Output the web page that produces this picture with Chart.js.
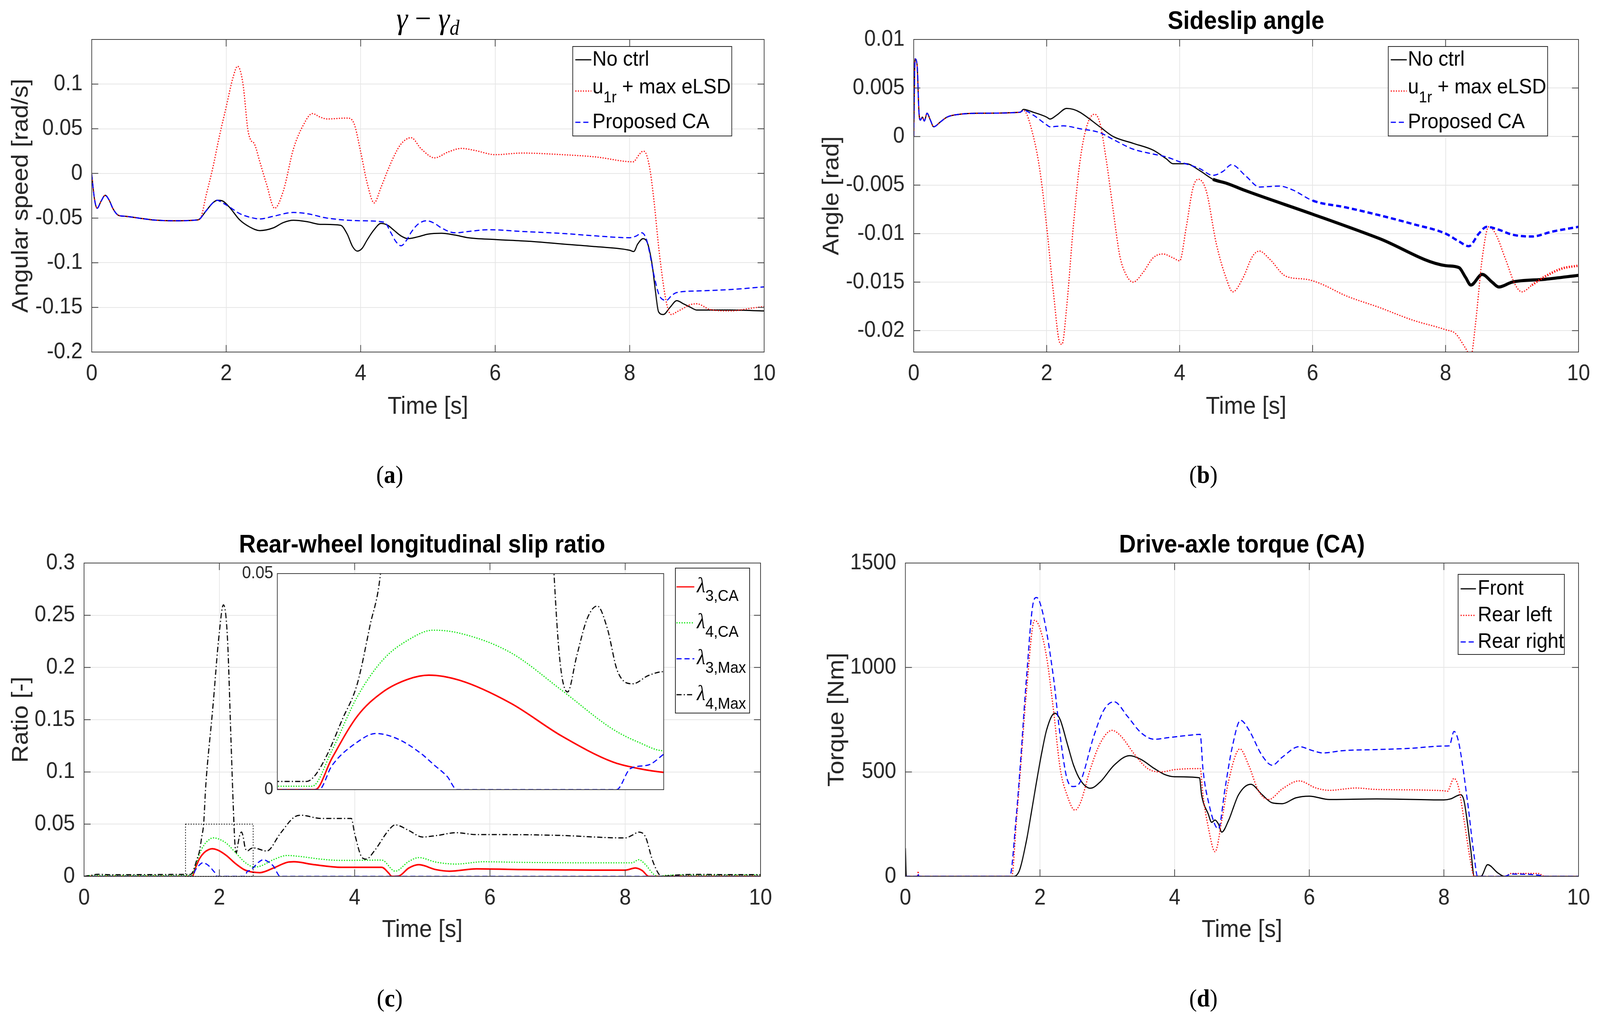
<!DOCTYPE html>
<html>
<head>
<meta charset="utf-8">
<script src="https://cdn.jsdelivr.net/npm/chart.js"></script>
<style>
  html, body { margin: 0; padding: 0; background: #fff; overflow: hidden; }
  #wrap { position: relative; overflow: hidden; background: #fff; }
  #page { position: absolute; left: 0; top: 0; width: 4397px; height: 2608px; background: #fff; transform-origin: 0 0; }
  canvas { position: absolute; }
  .ttl { position: absolute; transform: translate(-50%, -50%); white-space: nowrap; color: #000;
         font-family: "Liberation Sans", Arial, sans-serif; font-weight: bold; font-size: 64px; }
  .math { font-family: "Liberation Serif", "DejaVu Serif", serif; font-weight: normal; font-size: 79px; }
  .math i { font-style: italic; }
  .math sub { font-size: 54px; vertical-align: -16px; }
  .cap { position: absolute; transform: translate(-50%, -50%); white-space: nowrap; color: #000;
         font-family: "Liberation Serif", "DejaVu Serif", serif; font-size: 64px; }
</style>
</head>
<body>
<div id="wrap">
<div id="page">
  <canvas id="chartA" width="2200" height="1120" style="left:0px;top:0px;width:2200px;height:1120px"></canvas>
  <canvas id="chartB" width="2197" height="1120" style="left:2200px;top:0px;width:2197px;height:1120px"></canvas>
  <canvas id="chartC" width="2200" height="1180" style="left:0px;top:1300px;width:2200px;height:1180px"></canvas>
  <canvas id="chartD" width="2197" height="1180" style="left:2200px;top:1300px;width:2197px;height:1180px"></canvas>
  <canvas id="chartInset" width="1240" height="681" style="left:600px;top:1400px;width:1240px;height:681px"></canvas>

  <div class="ttl math" style="left:1176px;top:52px"><i>γ</i> − <i>γ<sub>d</sub></i></div>
  <div class="ttl" style="left:3424px;top:52px">Sideslip angle</div>
  <div class="ttl" style="left:1160px;top:1392px">Rear-wheel longitudinal slip ratio</div>
  <div class="ttl" style="left:3413px;top:1392px">Drive-axle torque (CA)</div>

  <div class="cap" style="left:1071px;top:1215px">(<b>a</b>)</div>
  <div class="cap" style="left:3307px;top:1215px">(<b>b</b>)</div>
  <div class="cap" style="left:1071px;top:2555px">(<b>c</b>)</div>
  <div class="cap" style="left:3307px;top:2555px">(<b>d</b>)</div>
</div>
</div>

<script>
// map the 4397x2608 figure onto whatever viewport the browser really has
const PAGE_W = 4397, PAGE_H = 2608;
const sx = window.innerWidth / PAGE_W;
const sy = (window.innerHeight || PAGE_H * sx) / PAGE_H;
const wrap = document.getElementById('wrap');
wrap.style.width = (PAGE_W * sx) + 'px';
wrap.style.height = (PAGE_H * sy) + 'px';
document.getElementById('page').style.transform = 'scale(' + sx + ',' + sy + ')';

// ---- ticks ----
const xTicks = [0, 2, 4, 6, 8, 10];
const yTicksA = [-0.2, -0.15, -0.1, -0.05, 0, 0.05, 0.1];
const yTicksB = [-0.02, -0.015, -0.01, -0.005, 0, 0.005, 0.01];
const yTicksC = [0, 0.05, 0.1, 0.15, 0.2, 0.25, 0.3];
const yTicksD = [0, 500, 1000, 1500];
const yTicksInset = [0, 0.05];
const INSET_T = [1.5, 2.5];
const INSET_Y = [0, 0.05];

// ---- legend labels ----
const labelsAB = ['No ctrl', 'u_{1r} + max eLSD', 'Proposed CA'];
const labelsC = ['λ_{3,CA}', 'λ_{4,CA}', 'λ_{3,Max}', 'λ_{4,Max}'];
const labelsD = ['Front', 'Rear left', 'Rear right'];

// ---- (a) yaw rate error [rad/s] ----
const tA_noCtrl = [0, 0.04, 0.08, 0.14, 0.2, 0.26, 0.32, 0.4, 0.5, 0.7, 0.9, 1.2, 1.58, 1.7, 1.8, 1.87, 1.95, 2.05, 2.2, 2.35, 2.5, 2.7, 2.85, 3.0, 3.2, 3.4, 3.7, 3.8, 3.88, 3.95, 4.02, 4.1, 4.2, 4.3, 4.4, 4.5, 4.6, 4.7, 4.85, 5.0, 5.2, 5.4, 5.6, 6.0, 6.5, 7.0, 7.5, 8.0, 8.06, 8.12, 8.2, 8.26, 8.3, 8.34, 8.38, 8.43, 8.5, 8.6, 8.7, 8.8, 8.9, 9.0, 9.5, 10];
const yA_noCtrl = [-0.001, -0.028, -0.039, -0.031, -0.0245, -0.03, -0.04, -0.047, -0.048, -0.05, -0.052, -0.053, -0.052, -0.042, -0.033, -0.03, -0.031, -0.038, -0.052, -0.06, -0.064, -0.061, -0.055, -0.0525, -0.054, -0.057, -0.058, -0.068, -0.082, -0.087, -0.084, -0.074, -0.063, -0.056, -0.058, -0.064, -0.07, -0.073, -0.071, -0.068, -0.067, -0.069, -0.072, -0.074, -0.076, -0.079, -0.082, -0.086, -0.0875, -0.079, -0.073, -0.077, -0.088, -0.105, -0.13, -0.155, -0.158, -0.15, -0.1425, -0.146, -0.1497, -0.153, -0.153, -0.154];
const tA_eLSD = [0, 0.04, 0.08, 0.14, 0.2, 0.26, 0.32, 0.4, 0.5, 0.7, 0.9, 1.2, 1.58, 1.62, 1.7, 1.8, 1.9, 2.0, 2.1, 2.17, 2.25, 2.32, 2.36, 2.42, 2.5, 2.6, 2.72, 2.85, 3.0, 3.15, 3.28, 3.4, 3.5, 3.8, 3.9, 4.0, 4.1, 4.2, 4.3, 4.4, 4.5, 4.6, 4.75, 4.9, 5.1, 5.3, 5.5, 5.7, 6.0, 6.4, 7.0, 7.5, 8.05, 8.15, 8.2, 8.25, 8.3, 8.35, 8.45, 8.55, 8.62, 8.7, 8.8, 8.9, 9.0, 9.2, 9.5, 9.8, 10];
const yA_eLSD = [-0.001, -0.028, -0.039, -0.031, -0.0245, -0.03, -0.04, -0.047, -0.048, -0.05, -0.052, -0.053, -0.052, -0.05, -0.025, 0.006, 0.042, 0.0745, 0.107, 0.12, 0.1, 0.05, 0.038, 0.033, 0.013, -0.012, -0.039, -0.0195, 0.0275, 0.0546, 0.067, 0.063, 0.061, 0.062, 0.056, 0.024, -0.012, -0.033, -0.016, 0.003, 0.02, 0.033, 0.04, 0.0275, 0.0174, 0.024, 0.028, 0.0257, 0.021, 0.0228, 0.021, 0.0184, 0.013, 0.022, 0.025, 0.021, 0.005, -0.023, -0.095, -0.146, -0.158, -0.155, -0.151, -0.147, -0.146, -0.1525, -0.154, -0.151, -0.149];
const tA_CA = [0, 0.04, 0.08, 0.14, 0.2, 0.26, 0.32, 0.4, 0.5, 0.7, 0.9, 1.2, 1.58, 1.7, 1.8, 1.87, 1.9, 2.05, 2.2, 2.35, 2.5, 2.7, 3.0, 3.2, 3.5, 4.0, 4.35, 4.45, 4.52, 4.6, 4.68, 4.75, 4.85, 4.98, 5.1, 5.2, 5.4, 5.6, 5.9, 6.4, 7.0, 7.5, 8.0, 8.1, 8.18, 8.25, 8.3, 8.35, 8.45, 8.55, 8.62, 8.7, 9.0, 9.5, 10];
const yA_CA = [-0.001, -0.028, -0.039, -0.031, -0.0245, -0.03, -0.04, -0.047, -0.048, -0.05, -0.052, -0.053, -0.052, -0.042, -0.033, -0.03, -0.031, -0.0376, -0.045, -0.049, -0.051, -0.048, -0.0437, -0.045, -0.05, -0.053, -0.0546, -0.0665, -0.076, -0.081, -0.075, -0.066, -0.057, -0.053, -0.056, -0.061, -0.0665, -0.065, -0.063, -0.065, -0.0672, -0.07, -0.072, -0.07, -0.0665, -0.074, -0.09, -0.11, -0.138, -0.142, -0.137, -0.1334, -0.1316, -0.13, -0.127];

// ---- (b) sideslip angle [rad] ----
const tB_noCtrl = [0, 0.02, 0.05, 0.08, 0.1, 0.13, 0.16, 0.2, 0.25, 0.3, 0.4, 0.5, 0.7, 1.0, 1.6, 1.65, 1.8, 2.0, 2.05, 2.15, 2.3, 2.4, 2.5, 2.8, 3.0, 3.3, 3.6, 3.8, 3.9, 4.1, 4.3, 4.5, 4.7, 5.0, 6.0, 7.0, 8.0, 8.2, 8.3, 8.38, 8.55, 8.7, 8.8, 9.0, 9.5, 10];
const yB_noCtrl = [0, 0.008, 0.0074, 0.0024, 0.0017, 0.002, 0.0016, 0.0024, 0.0017, 0.001, 0.0015, 0.002, 0.0023, 0.0024, 0.0025, 0.0028, 0.0025, 0.002, 0.0018, 0.0022, 0.0029, 0.0028, 0.0025, 0.001, 0, -0.0007, -0.0014, -0.0023, -0.0028, -0.0028, -0.0035, -0.0044, -0.0048, -0.0056, -0.008, -0.0105, -0.0133, -0.0135, -0.0145, -0.0153, -0.0142, -0.015, -0.0155, -0.015, -0.0147, -0.0143];
const tB_eLSD = [0, 0.02, 0.05, 0.08, 0.1, 0.13, 0.16, 0.2, 0.25, 0.3, 0.4, 0.5, 0.7, 1.0, 1.6, 1.65, 1.8, 1.9, 2.0, 2.1, 2.2, 2.23, 2.3, 2.4, 2.5, 2.6, 2.72, 2.8, 2.9, 3.0, 3.1, 3.2, 3.3, 3.45, 3.6, 3.75, 3.9, 4.0, 4.1, 4.2, 4.28, 4.4, 4.55, 4.7, 4.8, 4.95, 5.1, 5.2, 5.35, 5.6, 5.9, 6.1, 6.5, 7.0, 7.5, 8.0, 8.15, 8.3, 8.38, 8.45, 8.55, 8.65, 8.75, 8.9, 9.05, 9.15, 9.3, 9.5, 9.75, 10];
const yB_eLSD = [0, 0.008, 0.0074, 0.0024, 0.0017, 0.002, 0.0016, 0.0024, 0.0017, 0.001, 0.0015, 0.002, 0.0023, 0.0024, 0.0025, 0.0027, 0, -0.0036, -0.0093, -0.016, -0.0213, -0.0214, -0.0176, -0.0093, -0.0026, 0.001, 0.0023, 0.0014, -0.0026, -0.0076, -0.0123, -0.0143, -0.015, -0.014, -0.0125, -0.0121, -0.0125, -0.0128, -0.0093, -0.0053, -0.0044, -0.0056, -0.011, -0.0146, -0.016, -0.0146, -0.0123, -0.0118, -0.0126, -0.0144, -0.0147, -0.0151, -0.0164, -0.0176, -0.0189, -0.0199, -0.0203, -0.0218, -0.0226, -0.0193, -0.0126, -0.0093, -0.01, -0.0126, -0.0153, -0.016, -0.0153, -0.0144, -0.0136, -0.0133];
const tB_CA = [0, 0.02, 0.05, 0.08, 0.1, 0.13, 0.16, 0.2, 0.25, 0.3, 0.4, 0.5, 0.7, 1.0, 1.6, 1.65, 1.8, 2.0, 2.05, 2.25, 2.5, 2.8, 3.0, 3.3, 3.6, 3.8, 4.0, 4.3, 4.5, 4.65, 4.78, 5.0, 5.2, 5.5, 5.7, 6.0, 6.5, 7.0, 7.5, 8.0, 8.2, 8.35, 8.5, 8.62, 8.8, 9.0, 9.3, 9.6, 10];
const yB_CA = [0, 0.008, 0.0074, 0.0024, 0.0017, 0.002, 0.0016, 0.0024, 0.0017, 0.001, 0.0015, 0.002, 0.0023, 0.0024, 0.0025, 0.0027, 0.0022, 0.0012, 0.001, 0.0011, 0.0008, 0.0004, -0.0003, -0.0013, -0.0018, -0.0021, -0.0026, -0.0033, -0.004, -0.0036, -0.0029, -0.0041, -0.0052, -0.0051, -0.0055, -0.0066, -0.0073, -0.0081, -0.009, -0.01, -0.0108, -0.0113, -0.01, -0.0093, -0.0096, -0.0101, -0.0103, -0.0098, -0.0093];

// ---- (c) rear-wheel slip ratio [-] ----
const tC_l3CA = [0, 1.5, 1.598, 1.641, 1.707, 1.773, 1.84, 1.892, 1.972, 2.104, 2.236, 2.368, 2.434, 2.5, 2.6, 2.8, 3.0, 3.1, 3.4, 3.8, 4.4, 4.5, 4.55, 4.65, 4.8, 4.95, 5.2, 5.4, 5.8, 6.5, 7.5, 8.0, 8.15, 8.25, 8.35, 10];
const yC_l3CA = [0, 0, 0, 0.0072, 0.017, 0.0226, 0.0256, 0.0265, 0.0253, 0.02, 0.0124, 0.0064, 0.0049, 0.004, 0.0036, 0.008, 0.0134, 0.014, 0.0112, 0.0087, 0.0087, 0.0034, 0, 0.0003, 0.008, 0.0112, 0.0065, 0.005, 0.0072, 0.0065, 0.006, 0.006, 0.008, 0.0056, 0, 0];
const tC_l4CA = [0, 0.1, 0.5, 1.5, 1.59, 1.641, 1.707, 1.773, 1.84, 1.903, 1.972, 2.104, 2.236, 2.368, 2.434, 2.5, 2.6, 2.8, 3.0, 3.2, 3.5, 3.8, 4.4, 4.6, 4.8, 4.95, 5.2, 5.5, 5.9, 6.5, 7.5, 8.1, 8.2, 8.3, 8.42, 8.5, 8.6, 9.0, 10];
const yC_l4CA = [0, 0.0008, 0.0008, 0.0008, 0.0008, 0.009, 0.0215, 0.03, 0.0347, 0.0369, 0.0362, 0.0317, 0.023, 0.014, 0.011, 0.009, 0.0097, 0.016, 0.02, 0.019, 0.0165, 0.0153, 0.0156, 0.005, 0.0143, 0.018, 0.0137, 0.0118, 0.014, 0.0134, 0.013, 0.013, 0.016, 0.0112, 0.002, 0, 0.001, 0.0013, 0.0013];
const tC_l3Max = [0, 1.5, 1.608, 1.641, 1.707, 1.755, 1.81, 1.87, 1.906, 1.94, 1.965, 2.378, 2.414, 2.46, 2.5, 2.58, 2.65, 2.72, 2.8, 2.9, 10];
const yC_l3Max = [0, 0, 0, 0.0055, 0.011, 0.013, 0.0118, 0.0085, 0.0057, 0.003, 0, 0, 0.0049, 0.0057, 0.0082, 0.0135, 0.016, 0.014, 0.0097, 0, 0];
const tC_l4Max = [0, 0.1, 0.2, 0.4, 1.0, 1.5, 1.575, 1.595, 1.628, 1.668, 1.707, 1.74, 1.767, 1.8, 1.9, 2.0, 2.06, 2.12, 2.17, 2.21, 2.23, 2.251, 2.275, 2.302, 2.328, 2.354, 2.38, 2.42, 2.46, 2.5, 2.7, 2.9, 3.1, 3.2, 3.5, 3.95, 4.0, 4.1, 4.17, 4.3, 4.5, 4.6, 4.8, 5.0, 5.2, 5.5, 5.8, 6.2, 7.0, 8.0, 8.1, 8.2, 8.3, 8.4, 8.5, 8.55, 8.7, 9.0, 9.5, 10];
const yC_l4Max = [0, 0.001, 0.002, 0.0016, 0.0017, 0.0019, 0.0019, 0.003, 0.0079, 0.0162, 0.0245, 0.038, 0.05, 0.0876, 0.159, 0.234, 0.26, 0.228, 0.134, 0.06, 0.031, 0.0226, 0.031, 0.0396, 0.0425, 0.0373, 0.0275, 0.0245, 0.0264, 0.0273, 0.0243, 0.041, 0.0564, 0.0586, 0.0555, 0.0555, 0.041, 0.019, 0.0165, 0.0252, 0.044, 0.0493, 0.044, 0.0377, 0.039, 0.0418, 0.04, 0.04, 0.0393, 0.0368, 0.0393, 0.0424, 0.0377, 0.0159, 0.0019, 0, 0.001, 0.0019, 0.0017, 0.0017];

// ---- (d) drive-axle torque [Nm] ----
const tD_front = [0, 0.015, 0.03, 1.6, 1.65, 1.7, 1.8, 1.9, 2.0, 2.1, 2.22, 2.3, 2.4, 2.5, 2.6, 2.75, 2.9, 3.1, 3.33, 3.5, 3.7, 3.85, 4.0, 4.37, 4.4, 4.5, 4.55, 4.6, 4.65, 4.7, 4.8, 4.95, 5.13, 5.3, 5.45, 5.6, 5.8, 6.0, 6.3, 7.0, 8.0, 8.1, 8.25, 8.3, 8.4, 8.45, 8.55, 8.65, 8.8, 8.9, 10];
const yD_front = [135, 0, 0, 0, 5, 33, 173, 360, 547, 703, 781, 750, 641, 531, 461, 422, 454, 532, 578, 560, 516, 488, 477, 472, 391, 298, 259, 270, 251, 212, 267, 391, 441, 391, 352, 348, 376, 384, 368, 371, 366, 371, 391, 360, 126, 0, 0, 56, 17, 0, 0];
const tD_rearL = [0, 0.18, 0.19, 0.2, 1.58, 1.65, 1.7, 1.8, 1.92, 2.0, 2.1, 2.2, 2.3, 2.4, 2.52, 2.6, 2.75, 2.9, 3.07, 3.2, 3.4, 3.6, 3.8, 4.0, 4.38, 4.42, 4.5, 4.6, 4.7, 4.8, 4.97, 5.1, 5.25, 5.4, 5.6, 5.85, 6.1, 6.3, 6.7, 7.0, 8.0, 8.05, 8.15, 8.22, 8.3, 8.4, 8.45, 8.9, 9.0, 9.4, 9.5, 10];
const yD_rearL = [0, 0, 25, 0, 0, 267, 469, 890, 1226, 1187, 1046, 797, 516, 391, 317, 352, 516, 641, 699, 672, 586, 516, 500, 511, 516, 391, 235, 118, 267, 454, 610, 532, 407, 368, 419, 457, 423, 412, 423, 416, 410, 407, 469, 423, 267, 64, 0, 0, 14, 14, 0, 0];
const tD_rearR = [0, 0.18, 0.19, 0.2, 1.55, 1.65, 1.7, 1.8, 1.9, 1.95, 2.05, 2.2, 2.3, 2.4, 2.5, 2.6, 2.8, 2.95, 3.1, 3.3, 3.5, 3.7, 3.9, 4.2, 4.38, 4.42, 4.5, 4.65, 4.75, 4.85, 4.98, 5.1, 5.3, 5.45, 5.6, 5.85, 6.05, 6.2, 6.5, 7.0, 7.5, 8.0, 8.08, 8.15, 8.22, 8.35, 8.45, 8.5, 8.9, 9.0, 9.4, 9.5, 10];
const yD_rearR = [0, 0, 15, 0, 0, 298, 500, 953, 1311, 1335, 1249, 953, 672, 469, 430, 454, 672, 797, 836, 766, 688, 656, 664, 675, 680, 516, 360, 228, 423, 610, 747, 703, 578, 532, 571, 621, 602, 591, 602, 607, 613, 624, 625, 694, 641, 360, 95, 0, 0, 11, 6, 0, 0];

// ---- styles ----
const FONT = '"Liberation Sans", Arial, sans-serif';
const TXT = '#262626';
const solidK = { borderColor: '#000000', borderWidth: 3 };
const dotR = { borderColor: '#ff0000', borderWidth: 3, borderDash: [3, 4] };
const dashB = { borderColor: '#0000ff', borderWidth: 3, borderDash: [14, 8] };
const solidR = { borderColor: '#ff0000', borderWidth: 4 };
const dotG = { borderColor: '#00e600', borderWidth: 3, borderDash: [3, 4] };
const dashDotK = { borderColor: '#000000', borderWidth: 3, borderDash: [14, 6, 3, 6] };

function series(label, t, y, style, extra, idx) {
  return Object.assign({
    label: label,
    data: t.map((v, i) => ({ x: v, y: y[i] })),
    pointRadius: 0,
    fill: false,
    cubicInterpolationMode: 'monotone',
    order: -idx
  }, style, extra || {});
}

// thicker stroke where the trace oscillates fast
function thickAfter(t0, w0, w1) {
  return { segment: { borderWidth: c => (c.p0.parsed.x >= t0 ? w1 : w0) } };
}

const fmt = v => String(+(+v).toFixed(4));

// box + inward ticks like MATLAB axes
const matlabAxes = {
  id: 'matlabAxes',
  beforeDraw(chart, args, o) {
    if (!o.fill) return;
    const { ctx, chartArea: a } = chart;
    ctx.save();
    ctx.fillStyle = '#ffffff';
    ctx.fillRect(a.left, a.top, a.width, a.height);
    ctx.restore();
  },
  afterDatasetsDraw(chart, args, o) {
    const { ctx, chartArea: a, scales } = chart;
    const L = o.tickLen;
    ctx.save();
    ctx.strokeStyle = '#404040';
    ctx.lineWidth = 2;
    ctx.beginPath();
    if (o.xTicks) {
      scales.x.ticks.forEach(t => {
        const px = scales.x.getPixelForValue(t.value);
        ctx.moveTo(px, a.bottom); ctx.lineTo(px, a.bottom - L);
        ctx.moveTo(px, a.top); ctx.lineTo(px, a.top + L);
      });
    }
    scales.y.ticks.forEach(t => {
      const py = scales.y.getPixelForValue(t.value);
      ctx.moveTo(a.left, py); ctx.lineTo(a.left + L, py);
      ctx.moveTo(a.right, py); ctx.lineTo(a.right - L, py);
    });
    ctx.stroke();
    ctx.strokeRect(a.left, a.top, a.width, a.height);
    if (o.zoomBox) {
      const x0 = scales.x.getPixelForValue(INSET_T[0]), x1 = scales.x.getPixelForValue(INSET_T[1]);
      const y0 = scales.y.getPixelForValue(INSET_Y[0]), y1 = scales.y.getPixelForValue(INSET_Y[1]);
      ctx.strokeStyle = '#000';
      ctx.setLineDash([3, 4]);
      ctx.strokeRect(x0, y1, x1 - x0, y0 - y1);
    }
    ctx.restore();
  }
};

function drawRich(ctx, label, x, y, o) {
  const parts = label.split(/_\{([^}]*)\}/);
  const mainY = y - (parts.length > 1 ? o.subShift : 0);
  ctx.textBaseline = 'middle';
  ctx.textAlign = 'left';
  ctx.fillStyle = '#000';
  parts.forEach((p, k) => {
    if (!p) return;
    if (k % 2) {
      ctx.font = Math.round(o.size * 0.76) + 'px ' + FONT;
      ctx.fillText(p, x, mainY + o.subDrop);
      x += ctx.measureText(p).width;
      return;
    }
    let rest = p;
    if (rest[0] === 'λ') {
      ctx.font = 'italic ' + o.size + 'px "Liberation Serif", serif';
      ctx.fillText('λ', x, mainY);
      x += ctx.measureText('λ').width;
      rest = rest.slice(1);
    }
    ctx.font = o.size + 'px ' + FONT;
    ctx.fillText(rest, x, mainY);
    x += ctx.measureText(rest).width;
  });
}

const matlabLegend = {
  id: 'matlabLegend',
  afterDraw(chart, args, o) {
    if (!o.w) return;
    const { ctx, chartArea: a } = chart;
    const bx = a.right + o.dx, by = a.top + o.dy;
    ctx.save();
    ctx.fillStyle = '#fff';
    ctx.fillRect(bx, by, o.w, o.h);
    ctx.strokeStyle = '#262626';
    ctx.lineWidth = 2;
    ctx.strokeRect(bx, by, o.w, o.h);
    chart.data.datasets.forEach((ds, i) => {
      const yy = by + o.row0 + i * o.step;
      ctx.strokeStyle = ds.borderColor;
      ctx.lineWidth = 3;
      ctx.setLineDash(ds.borderDash || []);
      ctx.beginPath();
      ctx.moveTo(bx + o.sampleX, yy);
      ctx.lineTo(bx + o.sampleX + o.sampleLen, yy);
      ctx.stroke();
      ctx.setLineDash([]);
      drawRich(ctx, ds.label, bx + o.textX, yy, o);
    });
    ctx.restore();
  }
};

function makeChart(id, datasets, c) {
  return new Chart(document.getElementById(id), {
    type: 'line',
    data: { datasets: datasets },
    plugins: [matlabAxes, matlabLegend],
    options: {
      responsive: false,
      animation: false,
      devicePixelRatio: 1,
      events: [],
      layout: { padding: c.pad },
      plugins: {
        legend: { display: false },
        tooltip: { enabled: false },
        matlabAxes: { tickLen: c.tickLen || 18, xTicks: c.xTicks !== false, fill: !!c.fill, zoomBox: !!c.zoomBox },
        matlabLegend: c.legend || {}
      },
      scales: {
        x: {
          type: 'linear',
          min: c.xMin, max: c.xMax,
          afterBuildTicks: s => { s.ticks = c.xTickVals.map(v => ({ value: v })); },
          afterFit: s => { s.height = c.xH; },
          ticks: { display: c.xLabels !== false, font: { family: FONT, size: 57 }, color: TXT, padding: 22, maxRotation: 0, autoSkip: false, callback: fmt },
          grid: { display: c.grid !== false, color: '#e6e6e6', lineWidth: 2, drawTicks: false },
          border: { display: false },
          title: { display: !!c.xTitle, text: c.xTitle, color: TXT, font: { family: FONT, size: 63 }, padding: { top: 0, bottom: c.xTitlePad || 0 } }
        },
        y: {
          type: 'linear',
          min: c.yMin, max: c.yMax,
          afterBuildTicks: s => { s.ticks = c.yTickVals.map(v => ({ value: v })); },
          afterFit: s => { s.width = c.yW; },
          ticks: { font: { family: FONT, size: c.yTickSize || 57 }, color: TXT, padding: c.yTickPad || 25, autoSkip: false, callback: fmt },
          grid: { display: c.grid !== false, color: '#e6e6e6', lineWidth: 2, drawTicks: false },
          border: { display: false },
          title: { display: !!c.yTitle, text: c.yTitle, color: TXT, font: { family: FONT, size: 63 }, padding: { top: c.yTitlePad || 0, bottom: 0 } }
        }
      }
    }
  });
}

// (a)
makeChart('chartA', [
  series(labelsAB[0], tA_noCtrl, yA_noCtrl, solidK, null, 0),
  series(labelsAB[1], tA_eLSD, yA_eLSD, dotR, null, 1),
  series(labelsAB[2], tA_CA, yA_CA, dashB, null, 2)
], {
  pad: { top: 101, right: 100, left: 0, bottom: 0 }, yW: 252, xH: 219,
  xMin: 0, xMax: 10, xTickVals: xTicks, yMin: -0.2, yMax: 0.15, yTickVals: yTicksA,
  xTitle: 'Time [s]', xTitlePad: 41, yTitle: 'Angular speed [rad/s]', yTitlePad: 21,
  legend: { dx: -526, dy: 18, w: 437, h: 229, row0: 34, step: 80, sampleX: 7, sampleLen: 44, textX: 54, size: 54, subShift: 9, subDrop: 27 }
});

// (b)
makeChart('chartB', [
  series(labelsAB[0], tB_noCtrl, yB_noCtrl, solidK, thickAfter(4.5, 3, 8), 0),
  series(labelsAB[1], tB_eLSD, yB_eLSD, dotR, thickAfter(9.2, 3, 6), 1),
  series(labelsAB[2], tB_CA, yB_CA, dashB, thickAfter(5.8, 3, 6), 2)
], {
  pad: { top: 101, right: 59, left: 0, bottom: 0 }, yW: 311, xH: 219,
  xMin: 0, xMax: 10, xTickVals: xTicks, yMin: -0.0222, yMax: 0.01, yTickVals: yTicksB,
  xTitle: 'Time [s]', xTitlePad: 41, yTitle: 'Angle [rad]', yTitlePad: 49,
  legend: { dx: -523, dy: 18, w: 438, h: 229, row0: 34, step: 80, sampleX: 7, sampleLen: 44, textX: 54, size: 54, subShift: 9, subDrop: 27 }
});

// (c)
const datasetsC = () => [
  series(labelsC[0], tC_l3CA, yC_l3CA, solidR, null, 0),
  series(labelsC[1], tC_l4CA, yC_l4CA, dotG, null, 1),
  series(labelsC[2], tC_l3Max, yC_l3Max, dashB, null, 2),
  series(labelsC[3], tC_l4Max, yC_l4Max, dashDotK, null, 3)
];
makeChart('chartC', datasetsC(), {
  pad: { top: 141, right: 110, left: 0, bottom: 0 }, yW: 231, xH: 237,
  xMin: 0, xMax: 10, xTickVals: xTicks, yMin: 0, yMax: 0.3, yTickVals: yTicksC,
  xTitle: 'Time [s]', xTitlePad: 62, yTitle: 'Ratio [-]', yTitlePad: 21, zoomBox: true,
  legend: { dx: -234, dy: 13, w: 204, h: 371, row0: 48, step: 92, sampleX: 3, sampleLen: 49, textX: 59, size: 54, subShift: 0, subDrop: 25 }
});

// (c) inset: same series, zoomed on the dotted box
makeChart('chartInset', datasetsC(), {
  pad: { top: 68, right: 16, left: 0, bottom: 0 }, yW: 162, xH: 60,
  xMin: INSET_T[0], xMax: INSET_T[1], xTickVals: [], yMin: INSET_Y[0], yMax: INSET_Y[1], yTickVals: yTicksInset,
  xLabels: false, xTicks: false, grid: false, fill: true, yTickSize: 44, yTickPad: 11
});

// (d)
makeChart('chartD', [
  series(labelsD[0], tD_front, yD_front, solidK, null, 0),
  series(labelsD[1], tD_rearL, yD_rearL, dotR, null, 1),
  series(labelsD[2], tD_rearR, yD_rearR, dashB, null, 2)
], {
  pad: { top: 141, right: 59, left: 0, bottom: 0 }, yW: 288, xH: 237,
  xMin: 0, xMax: 10, xTickVals: xTicks, yMin: 0, yMax: 1500, yTickVals: yTicksD,
  xTitle: 'Time [s]', xTitlePad: 62, yTitle: 'Torque [Nm]', yTitlePad: 63,
  legend: { dx: -331, dy: 29, w: 292, h: 205, row0: 37, step: 68, sampleX: 7, sampleLen: 42, textX: 54, size: 54, subShift: 0, subDrop: 25 }
});
</script>
</body>
</html>
